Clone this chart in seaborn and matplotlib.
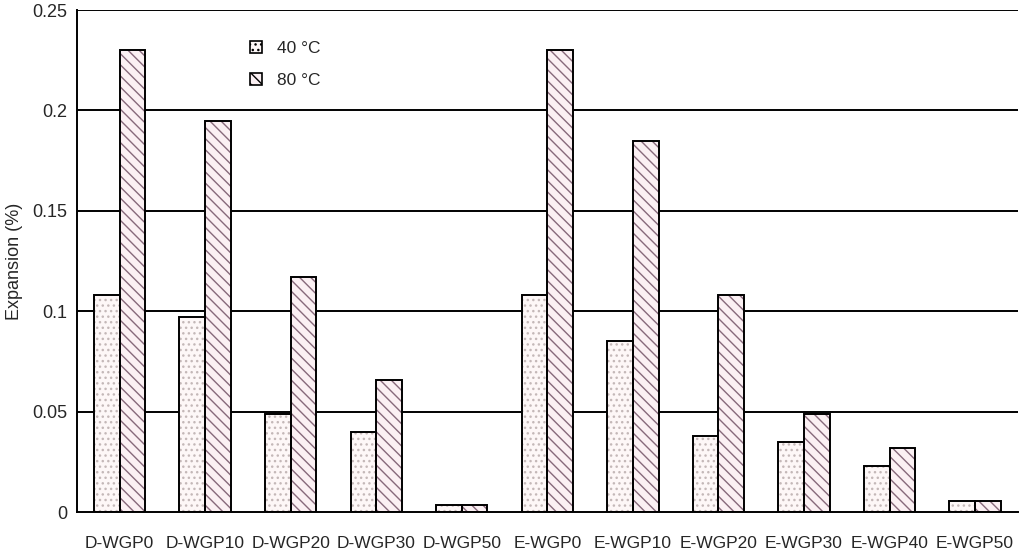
import matplotlib
matplotlib.use("Agg")
import matplotlib.pyplot as plt
import seaborn as sns
import numpy as np
import pandas as pd
from matplotlib.patches import Patch

# ==========================================
#                 DATA
# ==========================================
mixes = ["D-WGP0", "D-WGP10", "D-WGP20", "D-WGP30", "D-WGP50",
         "E-WGP0", "E-WGP10", "E-WGP20", "E-WGP30", "E-WGP40", "E-WGP50"]
temps = ["40 °C", "80 °C"]
exp_40 = [0.108, 0.097, 0.049, 0.040, 0.0035, 0.108, 0.085, 0.038, 0.035, 0.023, 0.0055]
exp_80 = [0.230, 0.195, 0.117, 0.066, 0.0035, 0.230, 0.185, 0.108, 0.049, 0.032, 0.0055]

df = pd.DataFrame({
    "mix": mixes * 2,
    "temp": [temps[0]] * len(mixes) + [temps[1]] * len(mixes),
    "expansion": exp_40 + exp_80,
})

# ==========================================
#                 STYLE
# ==========================================
sns.set_style("white")
plt.rcParams["font.family"] = ["Liberation Sans", "DejaVu Sans"]
plt.rcParams["hatch.linewidth"] = 1.0

fill_colors = {"40 °C": "#fdf7f7", "80 °C": "#fbf0f3"}
hatch_colors = {"40 °C": "#c4b8b8", "80 °C": "#87697b"}
hatches = {"40 °C": "...", "80 °C": "\\\\\\"}

fig = plt.figure(figsize=(10.24, 5.58), dpi=100)
ax = fig.add_axes([0.075, 0.082, 0.919, 0.900])

# gridlines behind the bars
for y in np.arange(0.05, 0.251, 0.05):
    ax.axhline(y, color="black", linewidth=1.4, zorder=0)

# pass 1: filled + hatched bars (edge colour drives hatch colour)
sns.barplot(data=df, x="mix", y="expansion", hue="temp", order=mixes,
            hue_order=temps, width=0.6, gap=0, ax=ax, legend=False,
            palette=fill_colors, saturation=1, errorbar=None)
n = len(mixes)
for i, p in enumerate(ax.patches[:2 * n]):
    t = temps[i // n]
    p.set_hatch(hatches[t])
    p.set_edgecolor(hatch_colors[t])
    p.set_linewidth(0)
    p.set_zorder(2)

# pass 2: black outlines
sns.barplot(data=df, x="mix", y="expansion", hue="temp", order=mixes,
            hue_order=temps, width=0.6, gap=0, ax=ax, legend=False,
            fill=False, color="black", errorbar=None)
for p in ax.patches[2 * n:]:
    p.set_edgecolor("black")
    p.set_linewidth(1.4)
    p.set_zorder(3)

ax.set_ylim(0, 0.25)
ax.set_xlim(-0.5, n - 0.5)
ax.set_yticks([0, 0.05, 0.1, 0.15, 0.2, 0.25])
ax.set_yticklabels(["0", "0.05", "0.1", "0.15", "0.2", "0.25"])
ax.set_xlabel("")
ax.set_ylabel("Expansion (%)", fontsize=13)
ax.yaxis.set_label_coords(-0.057, 0.5)
ax.tick_params(axis="x", labelsize=12.5, length=0, pad=17)
ax.tick_params(axis="y", labelsize=13, length=0, pad=7)

# small inward ticks between categories
ax.set_xticks(np.arange(0.5, n - 0.5, 1), minor=True)
ax.tick_params(axis="x", which="minor", direction="in", length=5, width=1.4)

for side in ["top", "right"]:
    ax.spines[side].set_visible(False)
for side in ["left", "bottom"]:
    ax.spines[side].set_color("black")
    ax.spines[side].set_linewidth(1.4)

handles = [Patch(facecolor=fill_colors[t], edgecolor="black", linewidth=1.2,
                 hatch=hatches[t]) for t in temps]
ax.legend(handles, temps, loc="upper left", bbox_to_anchor=(0.167, 0.97),
          frameon=False, fontsize=12.5, handlelength=0.7, handleheight=0.7,
          labelspacing=1.0, handletextpad=0.9)

plt.savefig("out.png", dpi=100)
plt.close()
